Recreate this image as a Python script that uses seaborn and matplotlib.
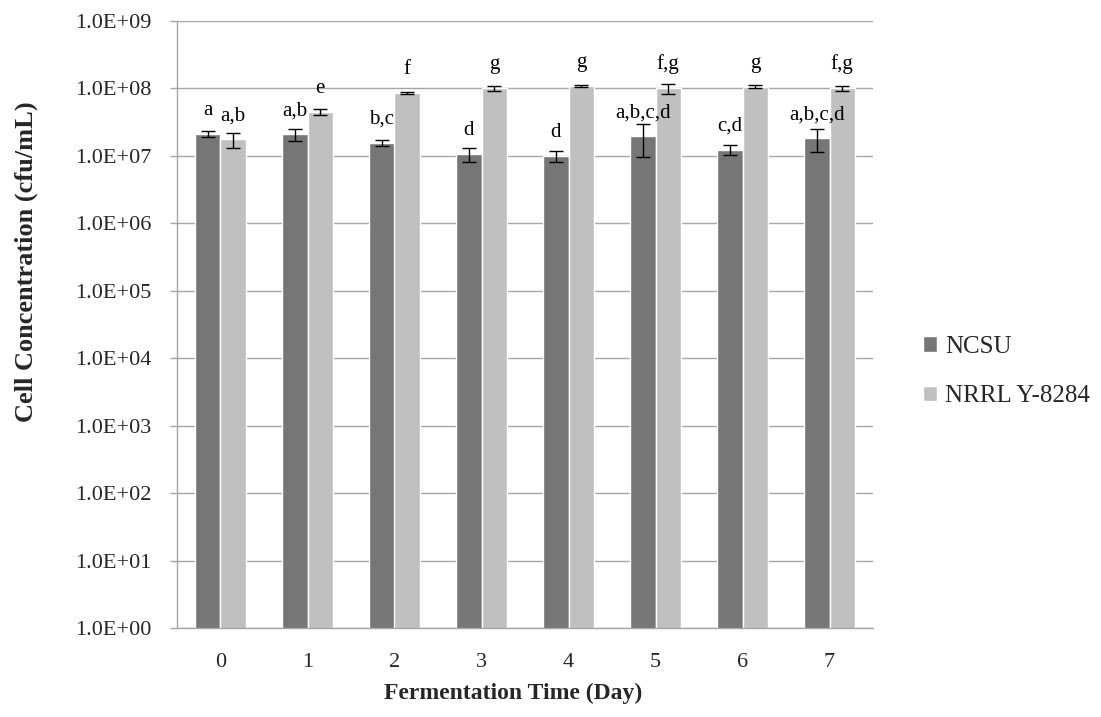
import numpy as np
import pandas as pd
import matplotlib
matplotlib.use("Agg")
import matplotlib.pyplot as plt
from matplotlib.ticker import FixedLocator, FuncFormatter
import seaborn as sns

# Fermentation days and cell counts (cfu/mL) for the two strains
days = ["0", "1", "2", "3", "4", "5", "6", "7"]
strains = ["NCSU", "NRRL Y-8284"]
ncsu_mean = [2.14e7, 2.10e7, 1.55e7, 1.06e7, 1.00e7, 1.96e7, 1.24e7, 1.83e7]
ncsu_err = [2.3e6, 4.2e6, 1.6e6, 2.4e6, 1.8e6, 1.0e7, 2.0e6, 7.0e6]
nrrl_mean = [1.77e7, 4.51e7, 8.55e7, 1.00e8, 1.10e8, 1.00e8, 1.06e8, 1.00e8]
nrrl_err = [4.5e6, 5.0e6, 3.0e6, 7.0e6, 4.0e6, 1.7e7, 5.0e6, 8.0e6]
ncsu_letters = ["a", "a,b", "b,c", "d", "d", "a,b,c,d", "c,d", "a,b,c,d"]
nrrl_letters = ["a,b", "e", "f", "g", "g", "f,g", "g", "f,g"]

df = pd.DataFrame({
    "day": days * 2,
    "conc": ncsu_mean + nrrl_mean,
    "strain": [strains[0]] * len(days) + [strains[1]] * len(days),
})

sns.set_theme(style="white")
plt.rcParams["font.family"] = ["Liberation Serif", "DejaVu Serif"]

W, H = 1101, 717
fig = plt.figure(figsize=(W / 100, H / 100), dpi=100)
ax = fig.add_axes([177 / W, 1 - 628 / H, (873 - 177) / W, (628 - 21) / H])

palette = {"NCSU": "#767676", "NRRL Y-8284": "#c0c0c0"}
sns.barplot(data=df, x="day", y="conc", hue="strain", palette=palette,
            width=0.575, errorbar=None, saturation=1, ax=ax, zorder=2)

ax.set_yscale("log")
ax.set_ylim(1, 1e9)
ax.set_xlim(-0.5, len(days) - 0.5)

# error bars and significance letters on each bar
for cont, means, errs, letters in zip(ax.containers,
                                      [ncsu_mean, nrrl_mean],
                                      [ncsu_err, nrrl_err],
                                      [ncsu_letters, nrrl_letters]):
    for bar, m, e, lab in zip(cont.patches, means, errs, letters):
        xc = bar.get_x() + bar.get_width() / 2
        ax.errorbar(xc, m, yerr=e, fmt="none", ecolor="black",
                    elinewidth=1.0, capsize=5, capthick=1.0, zorder=3)
        ax.annotate(lab, (xc, m), xytext=(0, 13.7), textcoords="offset points",
                    ha="center", va="baseline", fontsize=15, color="black")

# decade gridlines with Excel-style labels
ax.yaxis.set_major_locator(FixedLocator([10.0 ** k for k in range(0, 10)]))
ax.yaxis.set_minor_locator(FixedLocator([]))
ax.yaxis.set_major_formatter(FuncFormatter(lambda v, p: f"{v:.1E}"))
ax.grid(axis="y", color="#a6a6a6", linewidth=1.0, zorder=0)
ax.grid(axis="x", visible=False)
ax.set_axisbelow(True)

for side in ["top", "right"]:
    ax.spines[side].set_visible(False)
for side in ["left", "bottom"]:
    ax.spines[side].set_color("#a6a6a6")
    ax.spines[side].set_linewidth(1.0)

ax.tick_params(axis="y", which="major", length=5, width=1.0, color="#a6a6a6",
               labelsize=16, pad=13.5, left=True)
ax.tick_params(axis="x", length=0, labelsize=16, pad=18)

ax.set_xlabel("")
ax.set_ylabel("")
fig.text(513 / W, 1 - 693 / H, "Fermentation Time (Day)", fontsize=17,
         fontweight="bold", ha="center", va="center")
fig.text(26 / W, 1 - 262 / H, "Cell Concentration (cfu/mL)", fontsize=19,
         fontweight="bold", ha="center", va="center", rotation=90)

ax.legend(loc="center left", bbox_to_anchor=(923 / W, 1 - 371.5 / H),
          bbox_transform=fig.transFigure, frameon=False, fontsize=18,
          handlelength=0.56, handleheight=0.56, handletextpad=0.32,
          borderpad=0, borderaxespad=0, labelspacing=1.1)

fig.savefig("out.png", dpi=100, facecolor="white")
